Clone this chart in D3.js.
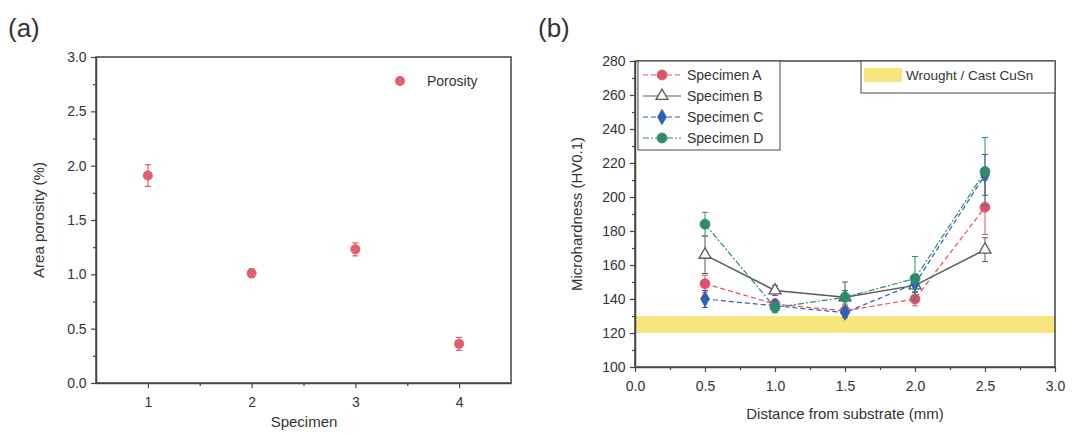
<!DOCTYPE html>
<html>
<head>
<meta charset="utf-8">
<script src="https://cdn.jsdelivr.net/npm/d3@7"></script>
<style>
  body { margin: 0; background: #fff; }
  text { font-family: "Liberation Sans", Arial, sans-serif; fill: #333; }
</style>
</head>
<body>
<div id="chart"></div>
<script>
// (a) porosity data
const specimens = [1, 2, 3, 4];
const porosity = [1.91, 1.01, 1.23, 0.36];
const porosityErr = [0.10, 0.04, 0.06, 0.06];

// (b) microhardness data
const distances = [0.5, 1.0, 1.5, 2.0, 2.5];
const seriesNames = ["Specimen A", "Specimen B", "Specimen C", "Specimen D"];
const hardA = [149, 137, 133, 140, 194];
const hardB = [166, 145, 141, 148, 169];
const hardC = [140, 136, 132, 149, 213];
const hardD = [184, 135, 141, 152, 215];
const errA = [5, 3, 3, 4, 16];
const errB = [11, 3, 9, 4, 7];
const errC = [5, 3, 3, 5, 12];
const errD = [7, 3, 4, 13, 20];
const bandRange = [120, 130]; // wrought / cast CuSn

const svg = d3.select("#chart").append("svg")
    .attr("width", 1074)
    .attr("height", 435);

const axisColor = "#444";
const bandColor = "#f7e57e";

// draws frame + ticks for a panel
function drawFrame(g, x, y, xTicks, xMinor, yTicks, yMinor, xFmt, yFmt) {
    const [x0, x1] = x.range();
    const [y0, y1] = y.range();

    g.append("g")
        .attr("transform", `translate(0,${y0})`)
        .call(d3.axisBottom(x).tickValues(xMinor).tickSize(3).tickFormat("").tickSizeOuter(0))
        .call(a => a.select(".domain").remove());
    const xa = g.append("g")
        .attr("transform", `translate(0,${y0})`)
        .call(d3.axisBottom(x).tickValues(xTicks).tickSize(5).tickFormat(xFmt).tickSizeOuter(0));
    xa.selectAll("text").attr("font-size", 14).attr("dy", "1.15em");

    g.append("g")
        .attr("transform", `translate(${x0},0)`)
        .call(d3.axisLeft(y).tickValues(yMinor).tickSize(3).tickFormat("").tickSizeOuter(0))
        .call(a => a.select(".domain").remove());
    const ya = g.append("g")
        .attr("transform", `translate(${x0},0)`)
        .call(d3.axisLeft(y).tickValues(yTicks).tickSize(5).tickFormat(yFmt).tickSizeOuter(0));
    ya.selectAll("text").attr("font-size", 14).attr("dx", "-0.1em");

    g.selectAll(".tick line").attr("stroke", axisColor).attr("stroke-width", 1.2);
    g.selectAll(".domain").attr("stroke", axisColor).attr("stroke-width", 1.5);
    g.selectAll(".tick text").attr("fill", "#3a3a3a");

    g.append("rect")
        .attr("x", x0).attr("y", y1)
        .attr("width", x1 - x0).attr("height", y0 - y1)
        .attr("fill", "none")
        .attr("stroke", axisColor)
        .attr("stroke-width", 1.5);
}

// ---------------- panel (a) ----------------
const ga = svg.append("g");
const xA = d3.scaleLinear().domain([0.5, 4.5]).range([96, 511]);
const yA = d3.scaleLinear().domain([0, 3]).range([383, 57]);

drawFrame(ga, xA, yA, specimens, [1.5, 2.5, 3.5],
    d3.range(0, 3.01, 0.5), d3.range(0.25, 3, 0.5),
    d3.format("d"), d3.format(".1f"));

const porColor = "#e0606e";
const porData = specimens.map((s, i) => ({ x: s, y: porosity[i], e: porosityErr[i] }));

ga.selectAll(".errA").data(porData).enter().append("path")
    .attr("d", d => {
        const cx = xA(d.x), t = yA(d.y + d.e), b = yA(d.y - d.e);
        return `M${cx - 3},${t}H${cx + 3}M${cx},${t}V${b}M${cx - 3},${b}H${cx + 3}`;
    })
    .attr("stroke", porColor)
    .attr("stroke-width", 1.2)
    .attr("fill", "none");

ga.selectAll(".ptA").data(porData).enter().append("circle")
    .attr("cx", d => xA(d.x))
    .attr("cy", d => yA(d.y))
    .attr("r", 5)
    .attr("fill", porColor);

// legend
ga.append("circle").attr("cx", 400).attr("cy", 81).attr("r", 5).attr("fill", porColor);
ga.append("text").attr("x", 427).attr("y", 86).attr("font-size", 14).text("Porosity");

ga.append("text")
    .attr("transform", `translate(44,220) rotate(-90)`)
    .attr("text-anchor", "middle")
    .attr("font-size", 15)
    .text("Area porosity (%)");
ga.append("text")
    .attr("x", 304).attr("y", 427)
    .attr("text-anchor", "middle")
    .attr("font-size", 15)
    .text("Specimen");
ga.append("text").attr("x", 8).attr("y", 37).attr("font-size", 26).attr("fill", "#222").text("(a)");

// ---------------- panel (b) ----------------
const gb = svg.append("g");
const xB = d3.scaleLinear().domain([0, 3]).range([635, 1055]);
const yB = d3.scaleLinear().domain([100, 280]).range([367, 61]);

// yellow band first so frame sits on top
gb.append("rect")
    .attr("x", xB(0))
    .attr("y", yB(bandRange[1]))
    .attr("width", xB(3) - xB(0))
    .attr("height", yB(bandRange[0]) - yB(bandRange[1]))
    .attr("fill", bandColor);

drawFrame(gb, xB, yB, d3.range(0, 3.01, 0.5), d3.range(0.25, 3, 0.5),
    d3.range(100, 281, 20), d3.range(110, 280, 20),
    d3.format(".1f"), d3.format("d"));

const series = [
    { name: seriesNames[0], vals: hardA, err: errA, color: "#e0506a", dash: "5,3", shape: "circle", fill: "#e0506a" },
    { name: seriesNames[1], vals: hardB, err: errB, color: "#5a5a5a", dash: null, shape: "triangle", fill: "#fff" },
    { name: seriesNames[2], vals: hardC, err: errC, color: "#2d62b3", dash: "5,3", shape: "diamond", fill: "#2d62b3" },
    { name: seriesNames[3], vals: hardD, err: errD, color: "#2e8b6e", dash: "6,2,2,2", shape: "circle", fill: "#2e8b6e" }
];

const symbols = {
    circle: d3.symbol().type(d3.symbolCircle).size(78),
    triangle: d3.symbol().type(d3.symbolTriangle).size(62),
    diamond: d3.symbol().type(d3.symbolDiamond).size(68)
};

const line = d3.line().x(d => xB(d.x)).y(d => yB(d.y));

series.forEach(s => {
    const pts = distances.map((dx, i) => ({ x: dx, y: s.vals[i], e: s.err[i] }));
    const g = gb.append("g");

    g.append("path")
        .datum(pts)
        .attr("d", line)
        .attr("fill", "none")
        .attr("stroke", s.color)
        .attr("stroke-width", s.shape === "triangle" ? 1.5 : 1.2)
        .attr("stroke-dasharray", s.dash);

    g.selectAll(".eb").data(pts).enter().append("path")
        .attr("d", d => {
            const cx = xB(d.x), t = yB(d.y + d.e), b = yB(d.y - d.e);
            return `M${cx - 3},${t}H${cx + 3}M${cx},${t}V${b}M${cx - 3},${b}H${cx + 3}`;
        })
        .attr("stroke", s.color)
        .attr("stroke-width", 1)
        .attr("fill", "none");

    g.selectAll(".pt").data(pts).enter().append("path")
        .attr("d", symbols[s.shape])
        .attr("transform", d => `translate(${xB(d.x)},${yB(d.y)})`)
        .attr("fill", s.fill)
        .attr("stroke", s.color)
        .attr("stroke-width", s.shape === "triangle" ? 1.3 : 0.8);
});

// legend for series
gb.append("rect")
    .attr("x", 638).attr("y", 61)
    .attr("width", 142).attr("height", 89)
    .attr("fill", "#fff")
    .attr("stroke", axisColor)
    .attr("stroke-width", 1);

series.forEach((s, i) => {
    const ly = 75 + i * 21;
    gb.append("line")
        .attr("x1", 643).attr("x2", 681)
        .attr("y1", ly).attr("y2", ly)
        .attr("stroke", s.color)
        .attr("stroke-width", 1.2)
        .attr("stroke-dasharray", s.dash);
    gb.append("path")
        .attr("d", symbols[s.shape])
        .attr("transform", `translate(662,${ly})`)
        .attr("fill", s.fill)
        .attr("stroke", s.color)
        .attr("stroke-width", s.shape === "triangle" ? 1.3 : 0.8);
    gb.append("text")
        .attr("x", 687).attr("y", ly + 5)
        .attr("font-size", 14)
        .text(s.name);
});

// legend for band
gb.append("rect")
    .attr("x", 861).attr("y", 61)
    .attr("width", 194).attr("height", 32)
    .attr("fill", "#fff")
    .attr("stroke", axisColor)
    .attr("stroke-width", 1);
gb.append("rect")
    .attr("x", 864).attr("y", 68)
    .attr("width", 38).attr("height", 14)
    .attr("fill", bandColor);
gb.append("text")
    .attr("x", 906).attr("y", 80)
    .attr("font-size", 13.5)
    .text("Wrought / Cast CuSn");

gb.append("text")
    .attr("transform", `translate(582,214) rotate(-90)`)
    .attr("text-anchor", "middle")
    .attr("font-size", 15)
    .text("Microhardness (HV0.1)");
gb.append("text")
    .attr("x", 845).attr("y", 419)
    .attr("text-anchor", "middle")
    .attr("font-size", 15)
    .text("Distance from substrate (mm)");
gb.append("text").attr("x", 538).attr("y", 37).attr("font-size", 26).attr("fill", "#222").text("(b)");
</script>
</body>
</html>
